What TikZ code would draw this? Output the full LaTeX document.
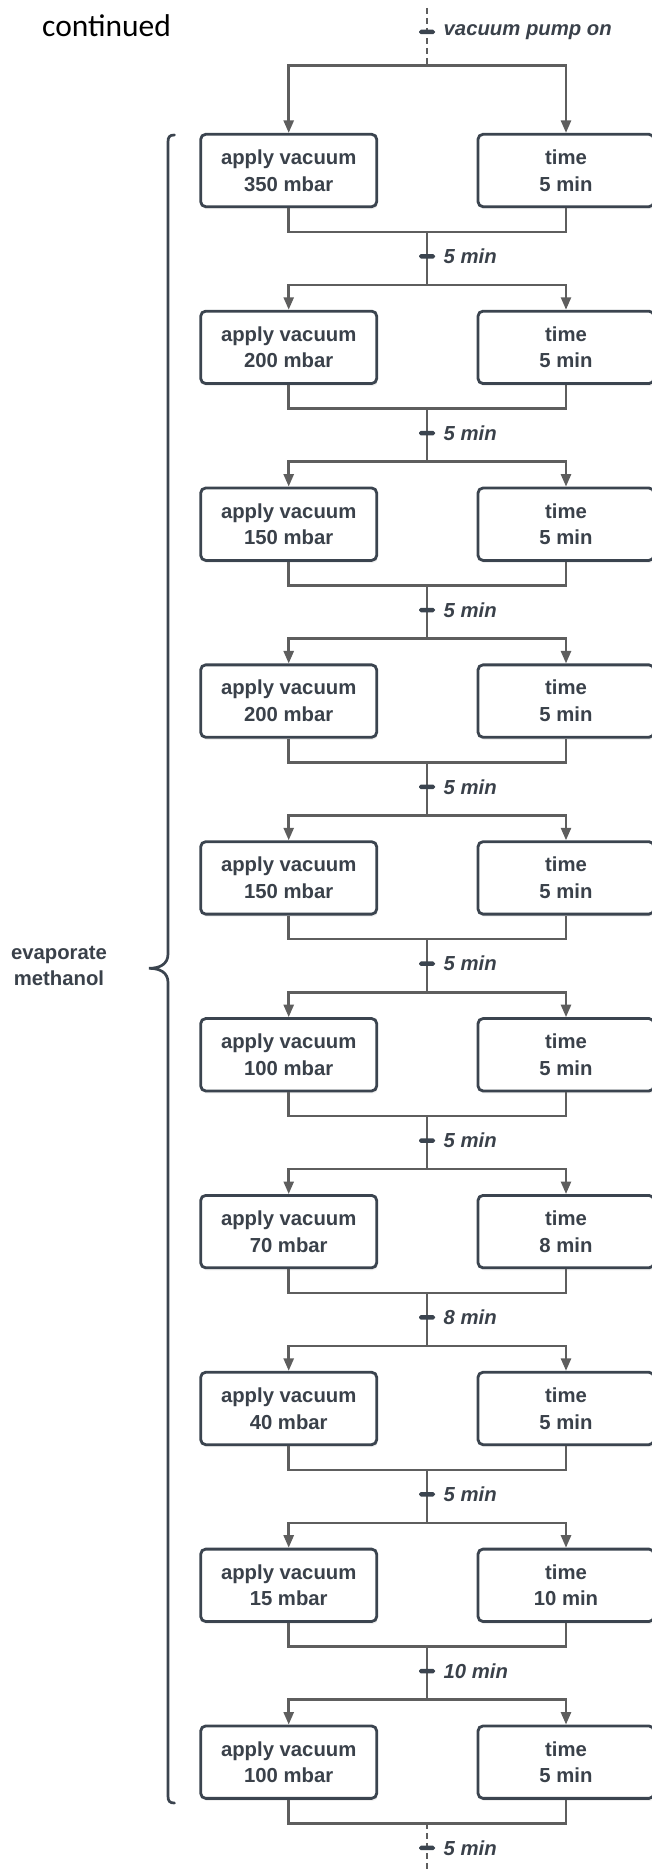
\documentclass[tikz,border=0pt]{standalone}
\usepackage{fontspec}
\setmainfont{Liberation Sans}
\newfontfamily\calib{Carlito}
\usetikzlibrary{arrows.meta,shadows}

\definecolor{ink}{HTML}{3A414A}
\definecolor{edge}{HTML}{3B444F}
\definecolor{wire}{HTML}{5E5E5E}

\tikzset{
  stepbox/.style={draw=edge, line width=2.8pt, fill=white, rounded corners=5pt,
    minimum width=176pt, minimum height=72.4pt, inner sep=0pt, align=center,
    text=ink, font=\fontsize{20.3}{26.7}\selectfont\bfseries,
    drop shadow={shadow xshift=1pt, shadow yshift=-2.5pt, opacity=0.13}},
  conn/.style={draw=wire, line width=2.5pt},
  flowarrow/.style={conn, -{Triangle[length=12.5pt,width=10pt]}},
  pumpdash/.style={conn, dash pattern=on 6pt off 4pt},
  tickbar/.style={fill=edge, rounded corners=1.8pt, minimum width=16pt,
    minimum height=4.5pt, inner sep=0pt},
  timelbl/.style={anchor=west, inner sep=0pt, text=ink,
    font=\fontsize{20.3}{24}\selectfont\bfseries\itshape},
  sidelbl/.style={align=center, inner sep=0pt, text=ink,
    font=\fontsize{20.3}{26.6}\selectfont\bfseries},
  bracepath/.style={draw=edge, line width=2.7pt, line cap=round},
}

\begin{document}
\begin{tikzpicture}[x=1pt, y=-1pt]
  \useasboundingbox (0,0) rectangle (652,1870);
  \clip (0,0) rectangle (652,1870);

  % heading
  \node[anchor=base west, inner sep=0pt, font=\calib\fontsize{31.5}{36}\selectfont]
    (head) at (42,36.7) {continued};

  % vacuum steps: pressure / hold time
  \foreach \p/\t [count=\k from 0] in
    {350/5,200/5,150/5,200/5,150/5,100/5,70/8,40/5,15/10,100/5} {
    \pgfmathsetmacro\T{134.3+\k*176.85}
    \node[stepbox] (L\k) at (288.7,\T+36.2) {apply vacuum\\\p\ mbar};
    \node[stepbox] (R\k) at (566,\T+36.2) {time\\\t\ min};
    \coordinate (M\k) at (427,\T+97.5);
    \coordinate (S\k) at (427,\T-26.3);
    \coordinate (K\k) at (427,\T+122);
    \expandafter\xdef\csname steptime\k\endcsname{\t}
  }
  \coordinate (S0) at (427,65.7);
  \coordinate (top) at (427,8);
  \coordinate (bot) at (427,1875);
  \coordinate (Ktop) at (427,32);

  % connectors
  \draw[pumpdash] (top) -- (S0);
  \foreach \k in {0,...,9} {
    \draw[flowarrow] (S\k) -| (L\k.north);
    \draw[flowarrow] (S\k) -| (R\k.north);
    \draw[conn] (L\k.south) -- (L\k.south |- M\k) -- (R\k.south |- M\k) -- (R\k.south);
  }
  \foreach \k [evaluate=\k as \n using int(\k+1)] in {0,...,8} {
    \draw[conn] (M\k) -- (S\n);
  }
  \draw[pumpdash] (M9) -- (bot);

  % timing marks
  \node[tickbar] (tickpump) at (Ktop) {};
  \node[timelbl] (lblpump) at (443.5,32) {vacuum pump on};
  \foreach \k in {0,...,9} {
    \node[tickbar] (tick\k) at (K\k) {};
    \node[timelbl] (lbl\k) at ([xshift=16.5pt]K\k) {\csname steptime\k\endcsname\ min};
  }

  % brace grouping all steps
  \draw[bracepath] (174.5,135) .. controls (169.5,135) and (168,137) .. (168,142)
    -- (168,954) .. controls (168,964) and (160,968.3) .. (149,968.3)
    .. controls (160,968.3) and (168,972.5) .. (168,982.5)
    -- (168,1796) .. controls (168,1801) and (169.5,1803) .. (174.5,1803);
  \node[sidelbl] (evap) at (59,966) {evaporate\\methanol};
\end{tikzpicture}
\end{document}
